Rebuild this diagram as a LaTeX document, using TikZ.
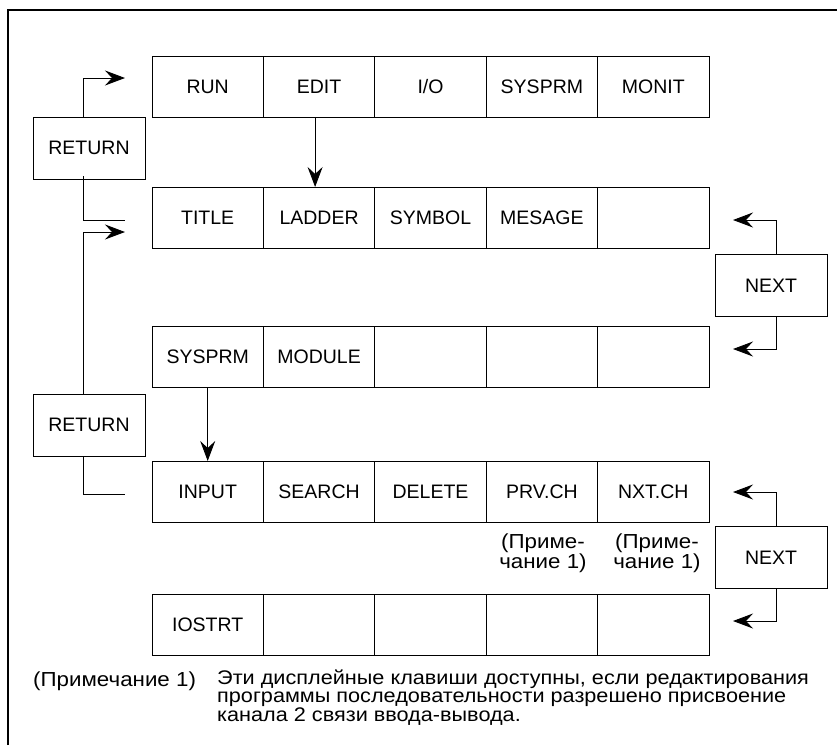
\documentclass[tikz,border=0pt]{standalone}
\usepackage{fontspec}
\setmainfont{Liberation Sans}
\newfontfamily\notefont[FakeStretch=1.1]{Liberation Sans}
\usetikzlibrary{positioning}
\usetikzlibrary{arrows.meta}
\tikzset{key/.style = {draw, line width=0.9pt, minimum width=111.4pt,
                       minimum height=61pt, outer sep=0pt, inner sep=0pt},
         navbox/.style = {draw, line width=0.9pt, minimum width=112pt,
                          minimum height=62pt, inner sep=0pt},
         nav/.style = {line width=0.9pt,
                       -{Stealth[length=20pt, width=15pt, inset=7pt]}},
         link/.style = {line width=0.9pt},
         remark/.style = {inner sep=0pt,
                          font=\notefont\fontsize{20.3}{18.5}\selectfont}}

\begin{document}
\begin{tikzpicture}[x=1pt, y=-1pt, font=\fontsize{19.5}{18.5}\selectfont]
    \useasboundingbox (0, 0) rectangle (837, 745);
    \draw [line width=2pt] (8, 745) -- (8, 10) -- (837, 10);

    % top menu
    \node [key] (run) at (207.7, 87) {RUN};
    \node [key, right=0pt of run] (edit) {EDIT};
    \node [key, right=0pt of edit] (io) {I/O};
    \node [key, right=0pt of io] (sysprm) {SYSPRM};
    \node [key, right=0pt of sysprm] (monit) {MONIT};

    % edit menu
    \node [key] (title) at (207.7, 217.5) {TITLE};
    \node [key, right=0pt of title] (ladder) {LADDER};
    \node [key, right=0pt of ladder] (symbol) {SYMBOL};
    \node [key, right=0pt of symbol] (mesage) {MESAGE};
    \node [key, right=0pt of mesage] (blanka) {};

    \node [key] (sysprmb) at (207.7, 356.5) {SYSPRM};
    \node [key, right=0pt of sysprmb] (module) {MODULE};
    \node [key, right=0pt of module] (blankb) {};
    \node [key, right=0pt of blankb] (blankc) {};
    \node [key, right=0pt of blankc] (blankd) {};

    % sysprm menu
    \node [key] (input) at (207.7, 491.5) {INPUT};
    \node [key, right=0pt of input] (search) {SEARCH};
    \node [key, right=0pt of search] (delete) {DELETE};
    \node [key, right=0pt of delete] (prvch) {PRV.CH};
    \node [key, right=0pt of prvch] (nxtch) {NXT.CH};

    \node [key] (iostrt) at (207.7, 624.5) {IOSTRT};
    \node [key, right=0pt of iostrt] (blanke) {};
    \node [key, right=0pt of blanke] (blankf) {};
    \node [key, right=0pt of blankf] (blankg) {};
    \node [key, right=0pt of blankg] (blankh) {};

    \node [remark, align=center] (prvnote) at (543, 553) {(Приме-\\чание 1)};
    \node [remark, align=center] (nxtnote) at (657, 553) {(Приме-\\чание 1)};

    % return / next keys
    \node [navbox] (retup) at (89, 148) {RETURN};
    \node [navbox] (retdown) at (89, 425) {RETURN};
    \node [navbox] (nextup) at (771, 285.5) {NEXT};
    \node [navbox] (nextdown) at (771, 557.5) {NEXT};

    \coordinate (runin) at (125, 78);
    \coordinate (titleout) at (125, 220);
    \coordinate (titlein) at (125, 232);
    \coordinate (inputout) at (125, 494);
    \coordinate (blankain) at (733, 220);
    \coordinate (blankdin) at (733, 349);
    \coordinate (nxtchin) at (733, 492);
    \coordinate (blankhin) at (733, 621);

    \draw [nav] ([xshift=-4pt]edit.south) -- ([xshift=-4pt]ladder.north);
    \draw [nav] (sysprmb.south) -- (input.north);
    \draw [nav] ([xshift=-6pt]retup.north) |- (runin);
    \draw [link] ([xshift=-6pt, yshift=3pt]retup.south) |- (titleout);
    \draw [nav] ([xshift=-6pt]retdown.north) |- (titlein);
    \draw [link] ([xshift=-6pt]retdown.south) |- (inputout);
    \draw [nav] ([xshift=5pt]nextup.north) |- (blankain);
    \draw [nav] ([xshift=5pt]nextup.south) |- (blankdin);
    \draw [nav] ([xshift=5pt]nextdown.north) |- (nxtchin);
    \draw [nav] ([xshift=5pt]nextdown.south) |- (blankhin);

    % footnote
    \node [remark, anchor=base west] (notelabel) at (33, 686) {(Примечание 1)};
    \node [remark, anchor=north west, align=left,
           font=\notefont\fontsize{19.7}{17.6}\selectfont] (notetext) at (217, 670)
          {Эти дисплейные клавиши доступны, если редактирования\\
           программы последовательности разрешено присвоение\\
           канала 2 связи ввода-вывода.};
  \end{tikzpicture}
\end{document}
